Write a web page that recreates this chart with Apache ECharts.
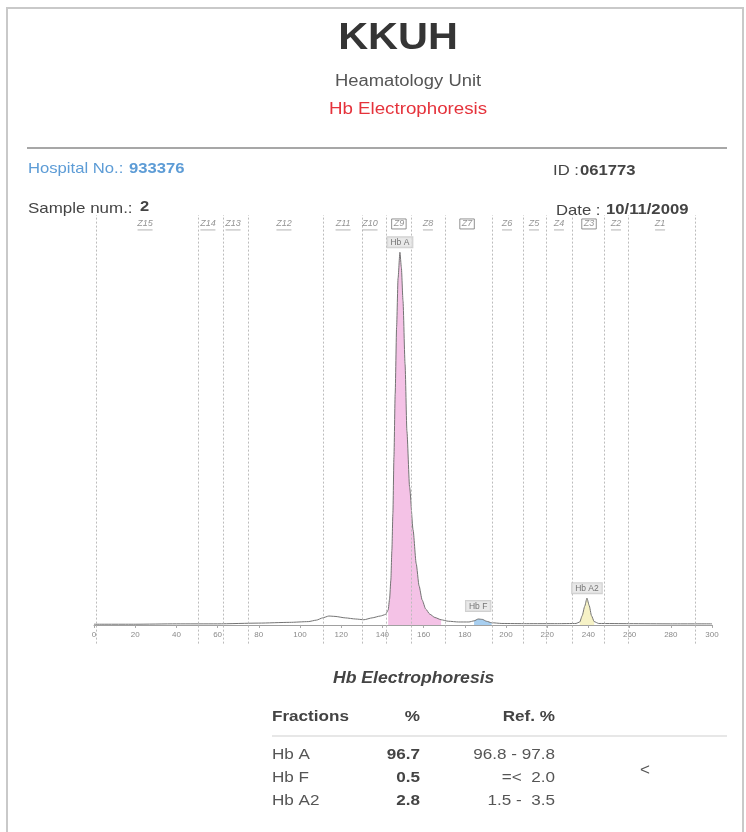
<!DOCTYPE html>
<html>
<head>
<meta charset="utf-8">
<title>Hb Electrophoresis</title>
<script src="https://cdn.jsdelivr.net/npm/echarts@6/dist/echarts.min.js"></script>
<style>
html, body { margin: 0; padding: 0; background: #fff; }
#chart { width: 746px; height: 832px; }
</style>
</head>
<body>
<div id="chart"></div>
<script>
// scan curve: x = migration position, y = relative absorbance (peak = 100)
const scanX = [0, 20, 40, 60, 80, 95, 104, 108, 111, 114, 117, 122, 127, 131, 135, 139, 141.5, 142.8, 143.5, 144.1,
    144.6, 145.1, 145.6, 146.2, 146.9, 147.6, 148.5, 149.2, 150, 151, 151.9, 153.2, 154.9, 156.4, 157.8,
    159.3, 161, 163, 165.5, 168.5, 172, 177, 182, 184.5, 186.5, 188.5, 190.5, 193, 198, 210,
    225, 234, 235.8, 237, 238.2, 239.3, 240.4, 241.5, 242.8, 245, 260, 280, 300];
const scanY = [0.2, 0.2, 0.3, 0.3, 0.5, 0.7, 0.9, 1.3, 1.9, 2.4, 2.3, 1.9, 1.6, 1.4, 1.9, 2.4, 2.8, 4, 7, 12,
    20, 30, 45, 62, 80, 93, 100, 96, 87, 70, 52, 37, 25.5, 16.5, 10.5,
    6.7, 4.3, 2.9, 2, 1.4, 1.0, 0.8, 0.8, 1.1, 1.6, 1.5, 1.0, 0.6, 0.4, 0.35,
    0.35, 0.4, 0.8, 2.5, 5, 7.2, 5.2, 2.5, 0.9, 0.4, 0.35, 0.3, 0.3];

// zone borders and zone names
const zoneLines = [1, 50.5, 62.6, 74.8, 111.2, 130.1, 141.7, 153.9, 170.4, 193.2, 208.3, 219.4, 232, 247.6, 259.2, 291.7];
const zoneNames = ['Z15', 'Z14', 'Z13', 'Z12', 'Z11', 'Z10', 'Z9', 'Z8', 'Z7', 'Z6', 'Z5', 'Z4', 'Z3', 'Z2', 'Z1'];
const zoneCenters = [24.8, 55.3, 67.5, 92.2, 120.9, 134, 148, 162.1, 181.1, 200.5, 213.6, 225.7, 240.3, 253.4, 274.8];
const boxedZones = ['Z9', 'Z7', 'Z3'];
const zoneLabelY = 107.6;

// fractions
const peakNames = ['Hb A', 'Hb F', 'Hb A2'];
const peakX = [148.5, 186.5, 239.3];
const peakY = [100, 1.6, 7.2];
const peakRanges = [[142.5, 168.5], [183, 193.5], [235.5, 244.5]];
const percents = ['96.7', '0.5', '2.8'];
const refRanges = ['96.8 - 97.8', '=<  2.0', '1.5 -  3.5'];

const FONT = '"Liberation Sans", Arial, sans-serif';
const fillColors = ['#f4c2e6', '#a8cff0', '#f6f2c6'];
const labelGaps = [5, 8, 5];

const chart = echarts.init(document.getElementById('chart'));
const scan = scanX.map((x, i) => [x, scanY[i]]);

function txt(x, y, text, size, opts) {
    opts = opts || {};
    return {
        type: 'text', x: x, y: y, scaleX: opts.sx || 1.12, silent: true,
        style: {
            text: text,
            font: (opts.italic ? 'italic ' : '') + (opts.bold ? 'bold ' : '') + size + 'px ' + FONT,
            fill: opts.color || '#555',
            textAlign: opts.align || 'left',
            textVerticalAlign: 'middle'
        }
    };
}

const fillSeries = peakRanges.map((r, i) => ({
    type: 'line',
    data: scan.filter(p => p[0] >= r[0] && p[0] <= r[1]),
    showSymbol: false,
    smooth: 0.2,
    smoothMonotone: 'x',
    lineStyle: { width: 0 },
    areaStyle: { color: fillColors[i], opacity: 1 },
    z: 1,
    silent: true
}));

const graphics = [
    { type: 'rect', shape: { x: 7, y: 8, width: 736, height: 850 }, style: { fill: 'none', stroke: '#c9c9c9', lineWidth: 2 }, silent: true },
    { type: 'line', shape: { x1: 27, y1: 148, x2: 727, y2: 148 }, style: { stroke: '#8a8a8a', lineWidth: 1.5 }, silent: true },
    txt(398, 39, 'KKUH', 37, { bold: true, align: 'center', color: '#353535' }),
    txt(408, 82, 'Heamatology Unit', 16, { align: 'center', color: '#555', sx: 1.15 }),
    txt(408, 110, 'Hb Electrophoresis', 16, { align: 'center', color: '#e5323b', sx: 1.17 }),
    txt(28, 169, 'Hospital No.:', 15, { color: '#5d9cd6', sx: 1.11 }),
    txt(129, 169, '933376', 15, { bold: true, color: '#5d9cd6', sx: 1.11 }),
    txt(553, 171, 'ID :', 15, { color: '#444', sx: 1.11 }),
    txt(580, 171, '061773', 15, { bold: true, color: '#444', sx: 1.11 }),
    txt(28, 209, 'Sample num.:', 15, { color: '#444', sx: 1.13 }),
    txt(140, 207, '2', 15, { bold: true, color: '#444', sx: 1.1 }),
    txt(556, 211, 'Date :', 15, { color: '#444', sx: 1.11 }),
    txt(606, 210, '10/11/2009', 15, { bold: true, color: '#444', sx: 1.11 }),
    txt(333, 679, 'Hb Electrophoresis', 16, { bold: true, italic: true, color: '#444', sx: 1.1 }),
    txt(272, 717, 'Fractions', 15, { bold: true, color: '#444', sx: 1.14 }),
    txt(420, 717, '%', 15, { bold: true, color: '#444', align: 'right', sx: 1.14 }),
    txt(555, 717, 'Ref. %', 15, { bold: true, color: '#444', align: 'right', sx: 1.14 }),
    { type: 'line', shape: { x1: 272, y1: 736, x2: 727, y2: 736 }, style: { stroke: '#cfcfcf', lineWidth: 1 }, silent: true },
    txt(645, 770, '<', 17, { color: '#555', align: 'center', sx: 1 })
];
const rowY = [755, 778, 801];
peakNames.forEach((name, i) => {
    graphics.push(txt(272, rowY[i], name, 15, { color: '#555', sx: 1.14 }));
    graphics.push(txt(420, rowY[i], percents[i], 15, { bold: true, color: '#444', align: 'right', sx: 1.14 }));
    graphics.push(txt(555, rowY[i], refRanges[i], 15, { color: '#555', align: 'right', sx: 1.14 }));
});

const option = {
    animation: false,
    backgroundColor: '#fff',
    grid: { left: 94, top: 215, width: 618, height: 428.6 },
    xAxis: {
        type: 'value', min: 0, max: 300, interval: 20,
        axisLine: { onZero: true, lineStyle: { color: '#a0a0a0', width: 1 } },
        axisTick: { length: 3, lineStyle: { color: '#a8a8a8' } },
        // labels sit under the zero line, not under the grid edge
        axisLabel: { fontSize: 8, color: '#8a8a8a', margin: -12.5, fontFamily: FONT },
        splitLine: { show: false }
    },
    yAxis: { type: 'value', min: -5, max: 110, show: false },
    series: [
        ...fillSeries,
        {
            type: 'line',
            data: scan,
            showSymbol: false,
            smooth: 0.2,
            smoothMonotone: 'x',
            lineStyle: { color: '#747474', width: 1 },
            z: 3,
            silent: true,
            markLine: {
                silent: true,
                symbol: ['none', 'none'],
                label: { show: false },
                lineStyle: { color: '#bcbcbc', type: [2, 2], width: 1 },
                data: zoneLines.map(v => ({ xAxis: v }))
            }
        },
        {
            type: 'scatter',
            symbolSize: 0,
            silent: true,
            z: 5,
            data: peakNames.map((n, i) => ({
                value: [peakX[i], peakY[i]], name: n,
                label: { distance: labelGaps[i] }
            })),
            label: {
                show: true, position: 'top', formatter: '{b}',
                fontSize: 8.5, color: '#555', fontFamily: FONT,
                backgroundColor: '#e3e3e3', borderColor: '#c4c4c4', borderWidth: 1,
                padding: [1, 3, 0, 3]
            }
        },
        {
            type: 'scatter',
            symbolSize: 0,
            silent: true,
            z: 5,
            data: zoneNames.map((n, i) => {
                const boxed = boxedZones.includes(n);
                return {
                    value: [zoneCenters[i], zoneLabelY], name: n,
                    label: boxed ? { borderColor: '#777', borderWidth: 1, padding: [1, 2, 0, 2] } : {}
                };
            }),
            label: {
                show: true, position: 'inside', formatter: '{b}',
                fontSize: 9, fontStyle: 'italic', color: '#777', fontFamily: FONT
            }
        },
        {
            type: 'scatter',
            symbol: 'rect',
            silent: true,
            z: 5,
            data: zoneNames.map((n, i) => ({
                value: [zoneCenters[i], zoneLabelY], name: n,
                symbolSize: boxedZones.includes(n) ? 0 : [n.length * 5, 0.8]
            })),
            symbolOffset: [0, 6],
            itemStyle: { color: '#8a8a8a' }
        }
    ],
    graphic: graphics
};
chart.setOption(option);
</script>
</body>
</html>
